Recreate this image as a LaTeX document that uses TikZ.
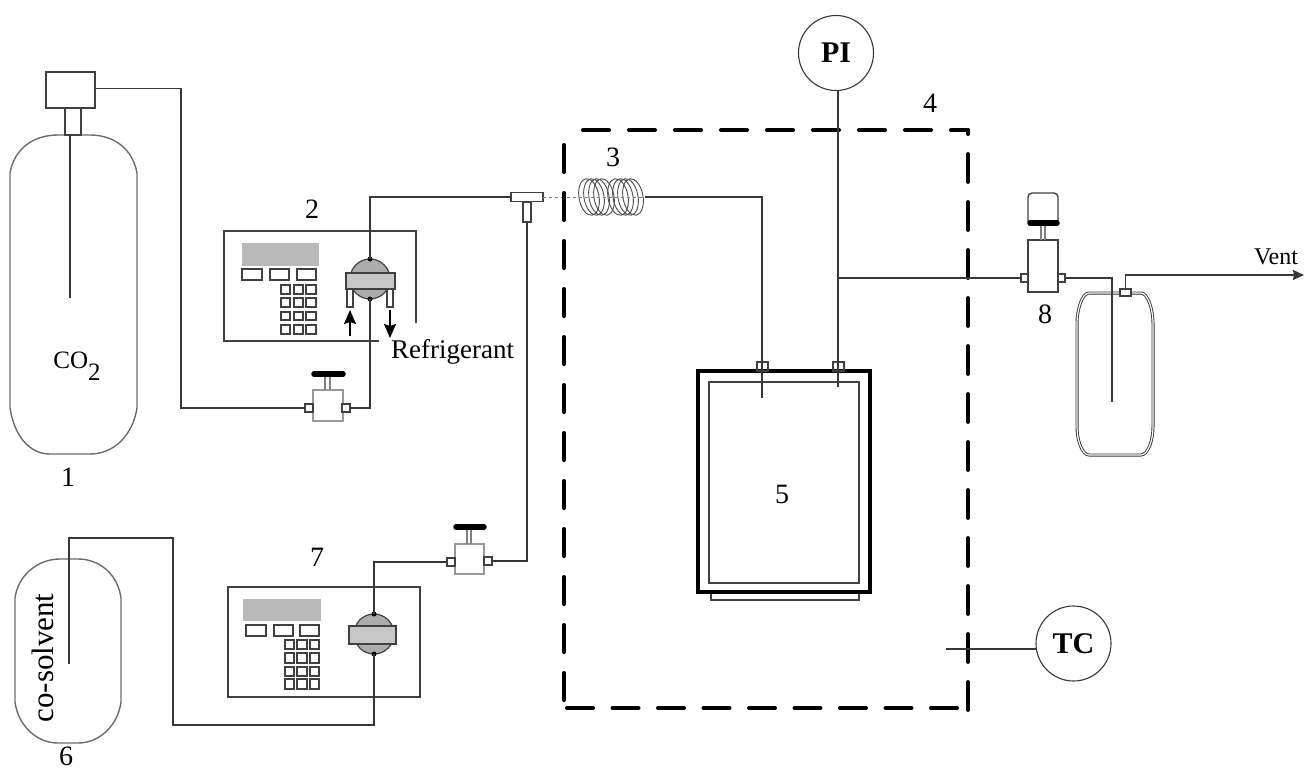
\documentclass[tikz,border=0pt]{standalone}
\usepackage{fontspec}
\setmainfont{Liberation Serif}
\usepackage{tikz}
\usetikzlibrary{arrows.meta}
\def\fs#1{\fontsize{#1}{#1}\selectfont}
\definecolor{pipegray}{gray}{0.22}
\definecolor{panelgray}{gray}{0.25}
\tikzset{
  pipe/.style={draw=pipegray,line width=1.5pt},
  shell/.style={draw=gray!85!black,line width=1.4pt},
  panel/.style={draw=panelgray,line width=1.4pt},
  key/.style={draw=panelgray,line width=1.6pt,fill=white},
  part/.style={draw=panelgray,line width=1.3pt,fill=white,inner sep=0pt,outer sep=0pt},
  lightpart/.style={part,draw=gray!80},
  band/.style={draw=panelgray,line width=1.3pt,fill=gray!45,inner sep=0pt,outer sep=0pt},
  head/.style={draw=panelgray,line width=1.2pt,fill=gray!65,circle,inner sep=0pt,outer sep=0pt,minimum size=40pt},
  handle/.style={draw=black,line width=5.5pt,line cap=round},
  oven/.style={draw=black,line width=4pt,line cap=round,dash pattern=on 26pt off 20pt},
  gauge/.style={draw=pipegray,line width=1.1pt,fill=white,circle,inner sep=0pt,outer sep=0pt,minimum size=75pt,font=\bfseries\fs{30}},
  numlabel/.style={inner sep=0pt,font=\fs{28}},
  flow/.style={draw=black,line width=1.5pt,-{Stealth[length=14pt,width=12pt,inset=2pt]}}
}
\begin{document}
\begin{tikzpicture}[x=1pt,y=-1pt]
  \useasboundingbox (0,0) rectangle (1304,770);
  % cylinder 1
  \draw[shell] (10,173) .. controls (14,150) and (32,135) .. (58,135) -- (90,135) .. controls (115,135) and (133,150) .. (137,173) -- (137,408) .. controls (133,434) and (115,454) .. (90,454) -- (50,454) .. controls (28,454) and (14,434) .. (10,408) -- cycle;
  \node[part,minimum width=16pt,minimum height=27pt] (neck) at (73,121.5){};
  \node[part,minimum width=49pt,minimum height=36pt] (reg) at (70.5,90){};
  \coordinate (dipA) at (70,298);
  \draw[pipe] (70,135) -- (dipA);
  \node[font=\fs{25},inner sep=0pt] (cotwo) at (77,366){CO\raisebox{-12pt}{2}};
  \node[numlabel] (labA) at (68,477){1};
  % cylinder 6
  \draw[shell] (15,598) .. controls (18,575) and (38,559) .. (60,559) -- (78,559) .. controls (100,559) and (118,575) .. (121,598) -- (121,702) .. controls (118,725) and (100,743) .. (78,743) -- (58,743) .. controls (36,743) and (18,725) .. (15,702) -- cycle;
  \node[rotate=90,font=\fs{31},inner sep=0pt] (cosolv) at (43,658){co-solvent};
  \node[numlabel] (labF) at (66,756){6};
  % pump 2
  \draw[panel] (379,341) -- (224,341) -- (224,231) -- (416,231) -- (416,323);
  \fill[gray!55] (242,243) rectangle (319,266);
  \foreach \a/\b in {242/262,270/289,297/316}
    \draw[key] (\a,269) rectangle (\b,280);
  \foreach \a/\b in {281/290,294/303,306/316}
    \foreach \c/\d in {285/294,298/307,312/320,325/334}
      \draw[key] (\a,\c) rectangle (\b,\d);
  \node[head] (pumpA) at (370,279){};
  \fill[black] (pumpA.north) circle(2.5pt);
  \fill[black] (pumpA.south) circle(2.5pt);
  \node[part,minimum width=6pt,minimum height=18pt] (legA) at (350,298){};
  \node[part,minimum width=6pt,minimum height=18pt] (legB) at (390,298){};
  \node[band,minimum width=49pt,minimum height=16pt] (bandA) at (370.5,281){};
  \coordinate (arrA) at (350,336);
  \coordinate (arrB) at (390,338);
  \draw[flow,shorten >=3pt] (arrA) -- (legA.south);
  \draw[flow,shorten <=3pt] (legB.south) -- (arrB);
  \node[numlabel] (labB) at (312,209){2};
  \node[anchor=west,inner sep=0pt,font=\fs{27}] (refrig) at (391,352){Refrigerant};
  % pump 7
  \draw[panel] (228,587) rectangle (420,697);
  \fill[gray!55] (243,599) rectangle (321,621);
  \foreach \a/\b in {246/266,274/293,300/319}
    \draw[key] (\a,625) rectangle (\b,636);
  \foreach \a/\b in {285/294,297/307,310/319}
    \foreach \c/\d in {640/649,653/663,667/676,679/689}
      \draw[key] (\a,\c) rectangle (\b,\d);
  \node[head] (pumpB) at (374,634){};
  \fill[black] (pumpB.north) circle(2.5pt);
  \fill[black] (pumpB.south) circle(2.5pt);
  \node[band,minimum width=47pt,minimum height=18pt] (bandB) at (372.5,635){};
  \node[numlabel] (labG) at (317,557){7};
  % valves
  \node[lightpart,minimum width=30pt,minimum height=31pt] (vlvA) at (328,405.5){};
  \node[part,minimum width=8pt,minimum height=8pt] (portAl) at (309,408){};
  \node[part,minimum width=8pt,minimum height=8pt] (portAr) at (346,408){};
  \draw[panel,draw=gray] (325,377) -- (325,390) (330,377) -- (330,390);
  \draw[handle] (314,374) -- (343,374);
  \node[lightpart,minimum width=29pt,minimum height=30pt] (vlvB) at (469.5,559){};
  \node[part,minimum width=8pt,minimum height=8pt] (portBl) at (451,562){};
  \node[part,minimum width=8pt,minimum height=8pt] (portBr) at (488,561){};
  \draw[panel,draw=gray] (467,530) -- (467,544) (471,530) -- (471,544);
  \draw[handle] (456,527) -- (484,527);
  \node[part,minimum width=30pt,minimum height=52pt] (vlvC) at (1043,266){};
  \node[part,minimum width=7pt,minimum height=8pt] (portCl) at (1024.5,278){};
  \node[part,minimum width=7pt,minimum height=8pt] (portCr) at (1061.5,278){};
  \draw[panel,draw=gray] (1041,226) -- (1041,240) (1045,226) -- (1045,240);
  \draw[panel,rounded corners=4pt] (1028,222) -- (1028,193) -- (1058,193) -- (1058,222);
  \draw[handle] (1030,223) -- (1057,223);
  \node[numlabel] (labH) at (1045,314){8};
  % tee
  \node[part,minimum width=8pt,minimum height=20pt] (teeS) at (527,212){};
  \node[part,minimum width=32pt,minimum height=9pt] (tee) at (527,197){};
  % coil
  \foreach \c in {589,594,599,604,618,623,628,633}
    \draw[gray!60!black,line width=0.9pt,rotate around={10:(\c,197)}] (\c,197) ellipse (10pt and 18.5pt);
  \draw[gray,line width=0.8pt,dashed] (543,197) -- (645,197);
  \node[numlabel] (labC) at (613,157){3};
  % vessel 5
  \draw[black,line width=4pt] (698,371) rectangle (870,592);
  \draw[panelgray,line width=1.2pt] (709,382) rectangle (859,583);
  \draw[panelgray,line width=1.2pt] (711,594) -- (711,600) -- (859,600) -- (859,594);
  \node[part,fill=none,minimum width=11pt,minimum height=9pt] (nozA) at (762.5,366.5){};
  \node[part,fill=none,minimum width=11pt,minimum height=9pt] (nozB) at (838.5,366.5){};
  \node[numlabel] (labE) at (782,494){5};
  % vessel at the vent
  \draw[draw=pipegray,line width=0.9pt,double=white,double distance=1.2pt] (1077,323) .. controls (1077,310) and (1082,293) .. (1089,293) -- (1141,293) .. controls (1148,293) and (1153,310) .. (1153,323) -- (1153,427) .. controls (1153,440) and (1148,455) .. (1141,455) -- (1089,455) .. controls (1082,455) and (1077,440) .. (1077,427) -- cycle;
  \node[part,minimum width=11pt,minimum height=7pt] (nozC) at (1125.5,292.5){};
  % oven 4
  \draw[oven] (583,130) -- (968,130);
  \draw[oven,dash pattern=on 28pt off 20pt] (968,710) -- (968,130);
  \draw[oven,dash pattern=on 26pt off 19.5pt] (957,708) -- (564,708);
  \draw[oven,dash pattern=on 27pt off 21pt] (564,145) -- (564,708);
  \node[numlabel] (labD) at (930,103){4};
  % gauges
  \node[gauge] (pi) at (836,53){PI};
  \node[gauge] (tc) at (1073.5,643.5){TC};
  % pipes
  \coordinate (bendA) at (181,408);
  \coordinate (bendB) at (370,408);
  \coordinate (bendC) at (370,197);
  \coordinate (bendD) at (527,561);
  \coordinate (bendE) at (374,562);
  \coordinate (bendF) at (173,538);
  \coordinate (bendG) at (173,725);
  \coordinate (bendH) at (374,725);
  \coordinate (dipF) at (69,664);
  \coordinate (topF) at (69,538);
  \coordinate (coilEnd) at (645,197);
  \coordinate (bendI) at (762,197);
  \coordinate (dipE) at (762,398);
  \coordinate (dipP) at (838,387);
  \coordinate (branch) at (838,278);
  \coordinate (bendJ) at (1112,278);
  \coordinate (dipJ) at (1112,402);
  \coordinate (probe) at (946,649);
  \coordinate (ventEnd) at (1304,275);
  \draw[pipe] (reg.4) -| (bendA) -- (portAl.west);
  \draw[pipe] (portAr.east) -- (bendB) -- (pumpA.south);
  \draw[pipe] (pumpA.north) -- (bendC) -- (tee.west);
  \draw[pipe] (teeS.south) -- (bendD) -- (portBr.east);
  \draw[pipe] (portBl.west) -- (bendE) -- (pumpB.north);
  \draw[pipe] (pumpB.south) -- (bendH) -- (bendG) -- (bendF) -- (topF) -- (dipF);
  \draw[pipe] (coilEnd) -- (bendI) -- (dipE);
  \draw[pipe] (pi.south-|dipP) -- (dipP);
  \draw[pipe] (branch) -- (portCl.west);
  \draw[pipe] (portCr.east) -- (bendJ) -- (dipJ);
  \draw[pipegray,line width=1.1pt] (tc.west|-probe) -- (probe);
  \draw[pipe,-{Stealth[length=11pt,width=10pt,inset=1pt]}] (nozC.north) |- (ventEnd);
  \node[inner sep=0pt,font=\fs{24}] (vent) at (1276,257){Vent};
\end{tikzpicture}
\end{document}
